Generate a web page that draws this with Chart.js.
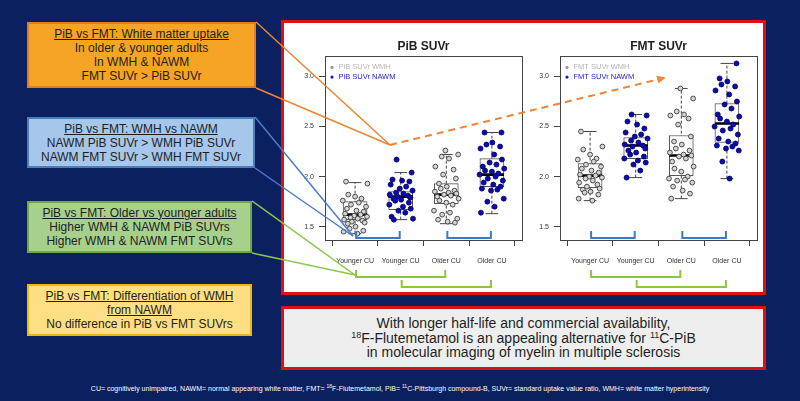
<!DOCTYPE html>
<html>
<head>
<meta charset="utf-8">
<script src="https://cdn.jsdelivr.net/npm/chart.js@4.4.1/dist/chart.umd.min.js"></script>
<style>
body { margin: 0; background: #0b205f; font-family: "Liberation Sans", Arial, sans-serif; }
#stage { position: relative; width: 800px; height: 401px; overflow: hidden; background: #0b205f; }
.box { position: absolute; box-sizing: border-box; display: flex; flex-direction: column; justify-content: center; align-items: center; text-align: center; font-size: 12px; line-height: 14px; color: #1e1e1e; }
.box u { text-decoration-thickness: 1px; text-underline-offset: 1px; }
#panel { position: absolute; left: 281px; top: 20px; width: 485px; height: 275px; box-sizing: border-box; background: #fff; border: 3px solid #e01010; }
#concl { position: absolute; left: 281px; top: 306px; width: 485px; height: 64px; box-sizing: border-box; background: #eeeeee; border: 3px solid #e01010; display: flex; flex-direction: column; justify-content: center; align-items: center; text-align: center; font-size: 14px; line-height: 14.4px; color: #1e1e1e; }
sup { font-size: 9px; line-height: 0; vertical-align: 5px; }
#foot { position: absolute; left: 0; width: 800px; top: 385px; text-align: center; color: #fff; font-size: 7px; }
#foot sup { font-size: 5px; vertical-align: 3px; }
canvas { position: absolute; }
#links { position: absolute; left: 0; top: 0; pointer-events: none; }
</style>
</head>
<body>
<div id="stage">
  <div class="box" style="left:27px;top:22px;width:229px;height:66px;background:#f5a425;border:2px solid #e27a26;">
    <u>PiB vs FMT: White matter uptake</u>
    <span>In older &amp; younger adults</span>
    <span>In WMH &amp; NAWM</span>
    <span>FMT SUVr &gt; PiB SUVr</span>
  </div>
  <div class="box" style="left:27px;top:117px;width:228px;height:51px;background:#a6c6ea;border:2px solid #4a7ebb;">
    <u>PiB vs FMT: WMH vs NAWM</u>
    <span>NAWM PiB SUVr &gt; WMH PiB SUVr</span>
    <span>NAWM FMT SUVr &gt; WMH FMT SUVr</span>
  </div>
  <div class="box" style="left:27px;top:201px;width:225px;height:52px;background:#a8d08d;border:2px solid #6fa845;">
    <u>PiB vs FMT: Older vs younger adults</u>
    <span>Higher WMH &amp; NAWM PiB SUVrs</span>
    <span>Higher WMH &amp; NAWM FMT SUVrs</span>
  </div>
  <div class="box" style="left:27px;top:284px;width:225px;height:52px;background:#ffdf84;border:2px solid #f2b516;">
    <u>PiB vs FMT: Differentiation of WMH</u>
    <u>from NAWM</u>
    <span>No difference in PiB vs FMT SUVrs</span>
  </div>

  <div id="panel"></div>
  <canvas id="pib" width="240" height="270" style="left:290px;top:22px"></canvas>
  <canvas id="fmt" width="240" height="270" style="left:525px;top:22px"></canvas>

  <div id="concl">
    <span>With longer half-life and commercial availability,</span>
    <span><sup>18</sup>F-Flutemetamol is an appealing alternative for <sup>11</sup>C-PiB</span>
    <span>in molecular imaging of myelin in multiple sclerosis</span>
  </div>
  <div id="foot">CU= cognitively unimpaired, NAWM= normal appearing white matter, FMT= <sup>18</sup>F-Flutemetamol, PiB= <sup>11</sup>C-Pittsburgh compound-B, SUVr= standard uptake value ratio, WMH= white matter hyperintensity</div>

  <svg id="links" width="800" height="401">
    <defs>
      <marker id="ah" markerWidth="9" markerHeight="8" refX="7" refY="4" orient="auto" markerUnits="userSpaceOnUse">
        <path d="M0,0 L9,4 L0,8 Z" fill="#f0893a"/>
      </marker>
    </defs>
    <g stroke="#ee8434" stroke-width="1.5" fill="none">
      <line x1="256" y1="22" x2="390" y2="145"/>
      <line x1="256" y1="88" x2="390" y2="145"/>
      <line x1="390" y1="145" x2="664" y2="78" stroke-width="2" stroke-dasharray="7,5" marker-end="url(#ah)"/>
    </g>
    <g stroke="#4a7cc8" stroke-width="1.5">
      <line x1="255" y1="117" x2="353" y2="236"/>
      <line x1="255" y1="168" x2="353" y2="236"/>
    </g>
    <g stroke="#8cc850" stroke-width="1.5">
      <line x1="252" y1="201" x2="355" y2="275"/>
      <line x1="252" y1="253" x2="355" y2="275"/>
    </g>
  </svg>
</div>

<script>
// --- DATA ---
const groups = ['Younger CU', 'Younger CU', 'Older CU', 'Older CU'];
const yTicks = [1.5, 2.0, 2.5, 3.0];
const jitter = [-0.12, 0.18, -0.25, 0.05, 0.22, -0.05, 0.1, -0.2, 0.27, -0.15, 0.0, 0.14, -0.27, 0.08, -0.09, 0.24, -0.18, 0.03, 0.19, -0.22, 0.12, -0.02, 0.26, -0.1, 0.06, -0.24, 0.16, -0.07, 0.21, -0.16, 0.01];

// PiB SUVr box stats (min, q1, median, q3, max)
const pibMin = [1.43, 1.57, 1.53, 1.63];
const pibQ1  = [1.57, 1.67, 1.73, 1.90];
const pibMed = [1.62, 1.80, 1.82, 2.02];
const pibQ3  = [1.75, 1.85, 1.93, 2.18];
const pibMax = [1.94, 2.04, 2.22, 2.44];
const pibYoungWmh  = [1.95, 1.93, 1.82, 1.80, 1.78, 1.76, 1.74, 1.72, 1.70, 1.68, 1.66, 1.65, 1.63, 1.62, 1.61, 1.60, 1.59, 1.58, 1.57, 1.56, 1.55, 1.54, 1.53, 1.50, 1.48, 1.46, 1.45, 1.43];
const pibYoungNawm = [2.17, 2.04, 1.97, 1.96, 1.95, 1.92, 1.90, 1.88, 1.86, 1.84, 1.83, 1.82, 1.81, 1.80, 1.79, 1.78, 1.77, 1.76, 1.74, 1.72, 1.70, 1.68, 1.66, 1.64, 1.60, 1.58, 1.57];
const pibOldWmh    = [2.26, 2.22, 2.20, 2.18, 2.10, 2.07, 2.02, 1.98, 1.93, 1.90, 1.88, 1.86, 1.85, 1.84, 1.83, 1.82, 1.81, 1.80, 1.78, 1.76, 1.74, 1.72, 1.66, 1.64, 1.62, 1.58, 1.57, 1.55, 1.54];
const pibOldNawm   = [2.44, 2.44, 2.34, 2.32, 2.30, 2.28, 2.22, 2.17, 2.14, 2.12, 2.10, 2.08, 2.06, 2.05, 2.03, 2.02, 2.00, 1.98, 1.96, 1.94, 1.92, 1.90, 1.88, 1.87, 1.86, 1.78, 1.75, 1.70, 1.64];

// FMT SUVr box stats
const fmtMin = [1.76, 1.99, 1.78, 1.98];
const fmtQ1  = [1.89, 2.18, 2.01, 2.34];
const fmtMed = [2.01, 2.31, 2.21, 2.53];
const fmtQ3  = [2.13, 2.39, 2.41, 2.73];
const fmtMax = [2.45, 2.62, 2.88, 3.13];
const fmtYoungWmh  = [2.45, 2.30, 2.27, 2.22, 2.18, 2.17, 2.15, 2.12, 2.10, 2.08, 2.06, 2.04, 2.02, 2.01, 2.00, 1.99, 1.98, 1.96, 1.94, 1.92, 1.90, 1.88, 1.87, 1.85, 1.84, 1.82, 1.78, 1.76];
const fmtYoungNawm = [2.62, 2.61, 2.55, 2.52, 2.48, 2.44, 2.42, 2.40, 2.38, 2.36, 2.34, 2.32, 2.31, 2.30, 2.28, 2.26, 2.24, 2.22, 2.20, 2.18, 2.16, 2.14, 2.12, 2.06, 1.99];
const fmtOldWmh    = [2.88, 2.78, 2.65, 2.62, 2.61, 2.58, 2.52, 2.40, 2.35, 2.32, 2.28, 2.26, 2.24, 2.22, 2.21, 2.20, 2.18, 2.15, 2.10, 2.08, 2.05, 2.00, 1.98, 1.97, 1.96, 1.94, 1.90, 1.86, 1.83, 1.78];
const fmtOldNawm   = [3.13, 2.98, 2.95, 2.92, 2.90, 2.86, 2.82, 2.75, 2.72, 2.68, 2.62, 2.60, 2.58, 2.55, 2.52, 2.50, 2.48, 2.46, 2.42, 2.38, 2.35, 2.33, 2.31, 2.30, 2.28, 2.26, 2.15, 1.98];

// --- PLUGINS ---
const framePlugin = {
    id: 'frame',
    afterDraw(chart) {
        const a = chart.chartArea, ctx = chart.ctx;
        ctx.save();
        ctx.strokeStyle = '#444'; ctx.lineWidth = 1;
        ctx.strokeRect(Math.round(a.left) + 0.5, Math.round(a.top) + 0.5, Math.round(a.right - a.left), Math.round(a.bottom - a.top));
        ctx.restore();
    }
};

// R-style legend inside the plot, top-left
const insideLegend = {
    id: 'insideLegend',
    afterDraw(chart) {
        const a = chart.chartArea, ctx = chart.ctx;
        let i = 0;
        ctx.save();
        ctx.font = '7.5px "Liberation Sans", Arial, sans-serif';
        ctx.textBaseline = 'middle';
        chart.data.datasets.forEach(ds => {
            if (!ds.legendColor) return;
            const y = a.top + 11 + i * 9.7;
            ctx.fillStyle = ds.legendDot;
            ctx.beginPath(); ctx.arc(a.left + 7, y, 1.6, 0, Math.PI * 2); ctx.fill();
            ctx.fillStyle = ds.legendColor;
            ctx.fillText(ds.label, a.left + 13.5, y);
            i++;
        });
        ctx.restore();
    }
};

// comparison brackets under the boxes
const bracketPlugin = {
    id: 'brackets',
    afterDraw(chart) {
        const x = chart.scales.x, b = chart.chartArea.bottom, ctx = chart.ctx;
        const list = [
            { from: 1, to: 2, y: b - 2, h: 7, color: '#3f78c8' },
            { from: 3, to: 4, y: b - 2, h: 7, color: '#3f78c8' },
            { from: 1, to: 3, y: b + 37, h: 7, color: '#8cc63e' },
            { from: 2, to: 4, y: b + 47, h: 7, color: '#8cc63e' }
        ];
        ctx.save();
        ctx.lineWidth = 2;
        list.forEach(br => {
            const x1 = x.getPixelForValue(br.from) + 1, x2 = x.getPixelForValue(br.to) - 1;
            ctx.strokeStyle = br.color;
            ctx.beginPath();
            ctx.moveTo(x1, br.y - br.h); ctx.lineTo(x1, br.y); ctx.lineTo(x2, br.y); ctx.lineTo(x2, br.y - br.h);
            ctx.stroke();
        });
        ctx.restore();
    }
};

function segs(xs, ys1, ys2, half) {
    // build broken line data, one segment per group
    const out = [];
    xs.forEach((g, i) => {
        out.push({ x: g - half, y: ys1[i] }, { x: g + half, y: ys2[i] }, { x: g, y: null });
    });
    return out;
}

function jittered(arrs, idx) {
    const out = [];
    arrs.forEach((arr, k) => {
        arr.forEach((v, i) => out.push({ x: idx[k] + jitter[(i + idx[k] * 7) % jitter.length], y: v }));
    });
    return out;
}

function makeChart(id, title, tracer, mn, q1, md, q3, mx, wmh, nawm) {
    const pos = [1, 2, 3, 4];
    new Chart(document.getElementById(id), {
        type: 'bar',
        data: {
            datasets: [
                { type: 'scatter', label: tracer + ' SUVr WMH', data: jittered(wmh, [1, 3]), order: 0,
                  pointRadius: 2.4, pointBackgroundColor: '#d4d4d4', pointBorderColor: '#4a4a4a', pointBorderWidth: 1,
                  legendColor: '#b4b4b4', legendDot: '#9a9a9a' },
                { type: 'scatter', label: tracer + ' SUVr NAWM', data: jittered(nawm, [2, 4]), order: 0,
                  pointRadius: 2.5, pointBackgroundColor: '#0b0bb0', pointBorderColor: '#000066', pointBorderWidth: 0.8,
                  legendColor: '#2424d0', legendDot: '#1a1ac8' },
                { type: 'line', label: 'median', data: segs(pos, md, md, 0.265), order: 1,
                  borderColor: '#000', borderWidth: 2.6, pointRadius: 0, spanGaps: false },
                { type: 'bar', label: 'box', data: pos.map((g, i) => ({ x: g, y: [q1[i], q3[i]] })), order: 2,
                  backgroundColor: '#ffffff', borderColor: '#555', borderWidth: 1, borderSkipped: false, barThickness: 24 },
                { type: 'line', label: 'caps', data: segs(pos, mx, mx, 0.14).concat(segs(pos, mn, mn, 0.14)), order: 3,
                  borderColor: '#444', borderWidth: 1, pointRadius: 0, spanGaps: false },
                { type: 'line', label: 'whisker', data: pos.flatMap((g, i) => [{ x: g, y: mn[i] }, { x: g, y: mx[i] }, { x: g, y: null }]), order: 4,
                  borderColor: '#444', borderWidth: 1, borderDash: [3, 2], pointRadius: 0, spanGaps: false }
            ]
        },
        options: {
            responsive: false,
            animation: false,
            layout: { padding: { left: 0, right: 8, top: 0, bottom: 0 } },
            plugins: {
                legend: { display: false },
                tooltip: { enabled: false },
                title: { display: true, text: title, fullSize: false, color: '#222',
                         font: { family: '"Liberation Sans", Arial, sans-serif', size: 12, weight: 'bold' },
                         padding: { top: 17, bottom: 3 } }
            },
            scales: {
                x: {
                    type: 'linear', min: 0.34, max: 4.66, offset: false,
                    afterBuildTicks: s => { s.ticks = [1, 2, 3, 4].map(v => ({ value: v })); },
                    afterFit: s => { s.height = 52; },
                    grid: { display: true, drawOnChartArea: false, drawTicks: true, tickLength: 6, color: '#444' },
                    border: { display: true, color: '#444' },
                    ticks: { padding: 11, color: '#333', maxRotation: 0, autoSkip: false,
                             font: { family: '"Liberation Sans", Arial, sans-serif', size: 7 },
                             callback: v => groups[v - 1] }
                },
                y: {
                    type: 'linear', min: 1.367, max: 3.2,
                    afterBuildTicks: s => { s.ticks = yTicks.map(v => ({ value: v })); },
                    afterFit: s => { s.width = 35; },
                    grid: { display: true, drawOnChartArea: false, drawTicks: true, tickLength: 6, color: '#444' },
                    border: { display: true, color: '#444' },
                    ticks: { padding: 5, color: '#333',
                             font: { family: '"Liberation Sans", Arial, sans-serif', size: 7 },
                             callback: v => v.toFixed(1) }
                }
            }
        },
        plugins: [framePlugin, insideLegend, bracketPlugin]
    });
}

makeChart('pib', 'PiB SUVr', 'PiB', pibMin, pibQ1, pibMed, pibQ3, pibMax, [pibYoungWmh, pibOldWmh], [pibYoungNawm, pibOldNawm]);
makeChart('fmt', 'FMT SUVr', 'FMT', fmtMin, fmtQ1, fmtMed, fmtQ3, fmtMax, [fmtYoungWmh, fmtOldWmh], [fmtYoungNawm, fmtOldNawm]);
</script>
</body>
</html>
